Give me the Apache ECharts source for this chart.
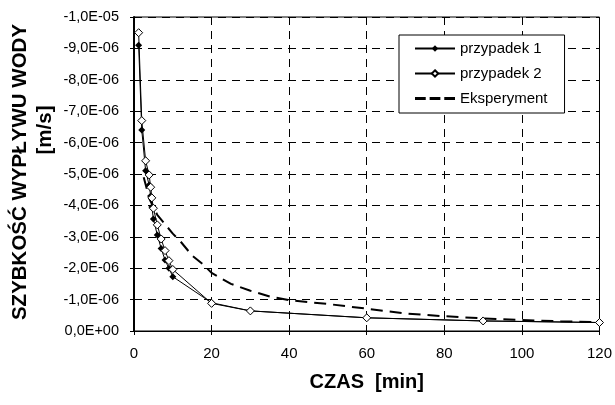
<!DOCTYPE html>
<html>
<head>
<meta charset="utf-8">
<script src="https://cdn.jsdelivr.net/npm/echarts@6/dist/echarts.min.js"></script>
<style>
  html, body { margin: 0; padding: 0; background: #fff; }
  #chart-container { width: 615px; height: 405px; }
</style>
</head>
<body>
<div id="chart-container"></div>
<script>
// czas [min]
const czas = [1.2, 2, 3, 3.9, 4.3, 4.6, 5, 6, 7, 8, 9, 10, 20, 30, 60, 90, 120];
// szybkość wypływu [m/s]
const przypadek1 = [-9.1e-6, -6.4e-6, -5.1e-6, -4.65e-6, -4.3e-6, -3.95e-6, -3.57e-6, -3.06e-6, -2.63e-6, -2.26e-6, -2.0e-6, -1.73e-6, -0.9e-6, -0.64e-6, -0.42e-6, -0.32e-6, -0.27e-6];
const przypadek2 = [-9.5e-6, -6.7e-6, -5.42e-6, -4.97e-6, -4.58e-6, -4.24e-6, -3.91e-6, -3.38e-6, -2.93e-6, -2.56e-6, -2.24e-6, -1.96e-6, -0.88e-6, -0.64e-6, -0.42e-6, -0.32e-6, -0.27e-6];
const czasEksp = [2.5, 4, 6, 8, 10, 12, 15, 18, 20, 25, 30, 35, 40, 50, 60, 70, 80, 90, 100, 110, 120];
const eksperyment = [-4.9e-6, -4.2e-6, -3.7e-6, -3.4e-6, -3.1e-6, -2.85e-6, -2.4e-6, -2.1e-6, -1.85e-6, -1.5e-6, -1.28e-6, -1.1e-6, -0.98e-6, -0.86e-6, -0.71e-6, -0.56e-6, -0.47e-6, -0.4e-6, -0.35e-6, -0.31e-6, -0.28e-6];

const FONT = '"Liberation Sans", Arial, sans-serif';

// format w stylu Excela: -9,0E-06
function sci(v) {
  if (Math.abs(v) < 1e-12) return '0,0E+00';
  let exp = Math.floor(Math.log10(Math.abs(v)) + 1e-9);
  let m = v / Math.pow(10, exp);
  let s = exp < 0 ? '-' : '+';
  let e = String(Math.abs(exp)).padStart(2, '0');
  return m.toFixed(1).replace('.', ',') + 'E' + s + e;
}

const pary = (xs, ys) => xs.map((x, i) => [x, ys[i]]);

// ikona przerywanej linii w legendzie
const ikonaPrzerywana = 'path://M0,0H11V3H0Z M15,0H26V3H15Z M30,0H41V3H30Z';

const chartOption = {
  animation: false,
  backgroundColor: '#fff',
  grid: {
    left: 134, right: 14, top: 17, bottom: 74,
    show: true, borderColor: '#000', borderWidth: 1
  },
  legend: {
    orient: 'vertical',
    left: 399, top: 35,
    backgroundColor: '#fff',
    borderColor: '#000',
    borderWidth: 1,
    padding: [6, 17, 7, 15],
    itemWidth: 40, itemHeight: 8, itemGap: 10,
    textStyle: { fontFamily: FONT, fontSize: 15, color: '#000' },
    data: [
      { name: 'przypadek 1' },
      { name: 'przypadek 2' },
      { name: 'Eksperyment', icon: ikonaPrzerywana }
    ]
  },
  xAxis: {
    type: 'value', min: 0, max: 120, interval: 20,
    name: 'CZAS  [min]', nameLocation: 'middle', nameGap: 41,
    nameTextStyle: { fontFamily: FONT, fontSize: 20, fontWeight: 'bold', color: '#000' },
    axisLine: { lineStyle: { color: '#000', width: 1 } },
    axisTick: { show: true, length: 4, lineStyle: { color: '#000' } },
    axisLabel: { fontFamily: FONT, fontSize: 15, color: '#000', margin: 15 },
    splitLine: { show: true, lineStyle: { color: '#000', type: [8, 6], width: 1 } }
  },
  yAxis: {
    type: 'value', min: -1e-5, max: 0, interval: 1e-6, inverse: true,
    axisLine: { show: true, lineStyle: { color: '#000', width: 2 } },
    axisTick: { show: true, length: 4, lineStyle: { color: '#000' } },
    axisLabel: { fontFamily: FONT, fontSize: 14.5, color: '#000', margin: 15, formatter: sci },
    splitLine: { show: true, lineStyle: { color: '#000', type: [8, 6], width: 1 } }
  },
  graphic: [
    {
      type: 'text',
      x: 20, y: 172,
      rotation: Math.PI / 2,
      style: {
        text: 'SZYBKOŚĆ WYPŁYWU WODY',
        fontFamily: FONT, fontSize: 20.5, fontWeight: 'bold', fill: '#000',
        align: 'center', verticalAlign: 'middle'
      }
    },
    {
      type: 'text',
      x: 45, y: 130,
      rotation: Math.PI / 2,
      style: {
        text: '[m/s]',
        fontFamily: FONT, fontSize: 20.5, fontWeight: 'bold', fill: '#000',
        align: 'center', verticalAlign: 'middle'
      }
    }
  ],
  series: [
    {
      name: 'przypadek 1', type: 'line',
      data: pary(czas, przypadek1),
      symbol: 'diamond', symbolSize: 7,
      itemStyle: { color: '#000' },
      lineStyle: { color: '#000', width: 1 }
    },
    {
      name: 'przypadek 2', type: 'line',
      data: pary(czas, przypadek2),
      symbol: 'diamond', symbolSize: 8, showAllSymbol: true,
      itemStyle: { color: '#fff', borderColor: '#000', borderWidth: 1 },
      lineStyle: { color: '#000', width: 1 }
    },
    {
      name: 'Eksperyment', type: 'line',
      data: pary(czasEksp, eksperyment),
      showSymbol: false,
      itemStyle: { color: '#000' },
      lineStyle: { color: '#000', width: 2, type: [12, 7] }
    }
  ]
};

const chartContainer = document.getElementById('chart-container');
const chart = echarts.init(chartContainer);
chart.setOption(chartOption);
</script>
</body>
</html>
